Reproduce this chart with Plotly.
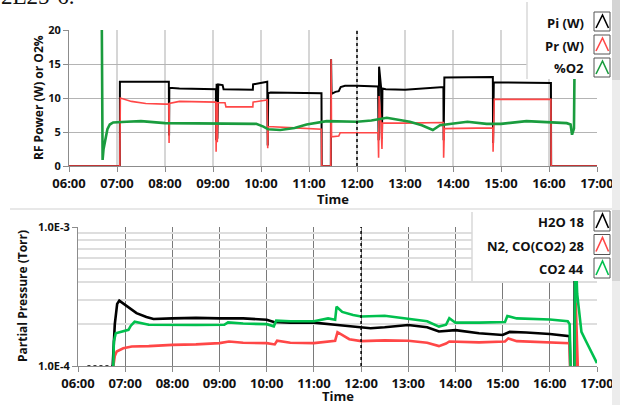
import plotly.graph_objects as go

W, H = 620, 405
def px(x): return x / W
def py(y): return 1 - y / H

# ---------------- data (hours of day) ----------------
hour_ticks = list(range(6, 18))
hour_labels = [f"{h:02d}:00" for h in hour_ticks]

pi_t = [6.0, 7.06, 7.06, 8.08, 8.085, 8.09, 8.3, 9.06, 9.065, 9.075, 9.09, 9.10, 9.11, 9.20, 9.22, 9.83, 9.835, 10.13, 10.14, 10.15, 10.20,
        11.26, 11.265, 11.455, 11.46, 11.47, 11.55, 11.62, 11.66, 11.75, 12.0, 12.44, 12.45, 12.46, 12.50, 12.52, 12.53, 12.6, 13.0,
        13.8, 13.805, 13.82, 14.83, 14.835, 14.85, 16.04, 16.045, 17.0]
pi_v = [0, 0, 12.4, 12.4, 4.5, 11.5, 11.4, 11.3, 3.8, 12.1, 4.0, 12.0, 12.0, 11.9, 11.3, 11.2, 12.0, 12.4, 3.0, 10.7, 10.8,
        10.7, 0, 0, 15.7, 10.6, 10.9, 11.0, 11.6, 11.8, 11.8, 11.7, 3.8, 14.6, 11.7, 4.0, 11.4, 11.3, 11.2,
        11.6, 3.8, 13.0, 13.1, 3.4, 12.3, 12.2, 0, 0]

pr_t = [6.0, 7.06, 7.062, 7.07, 7.3, 7.6, 8.0, 8.08, 8.085, 8.09, 8.3, 9.0, 9.06, 9.065, 9.075, 9.09, 9.10, 9.25, 9.27, 9.83, 9.835,
        10.13, 10.14, 10.15, 10.7, 11.26, 11.265, 11.455, 11.46, 11.47, 11.62, 11.65, 12.44, 12.45, 12.46, 12.50, 12.52, 12.53,
        13.0, 13.8, 13.805, 13.82, 14.83, 14.835, 14.86, 16.04, 16.045, 17.0]
pr_v = [0, 0, 3.4, 10.0, 9.5, 9.2, 9.1, 9.1, 3.4, 9.2, 9.5, 9.4, 9.4, 2.1, 9.4, 3.5, 9.3, 9.3, 8.7, 8.7, 9.4,
        9.7, 2.6, 5.8, 5.6, 5.4, 0, 0, 15.7, 4.3, 4.4, 4.9, 4.9, 1.2, 10.3, 6.2, 2.5, 6.3,
        6.3, 6.4, 1.2, 5.5, 5.6, 2.1, 9.8, 9.8, 0, 0]

o2_t = [6.68, 6.685, 6.70, 6.72, 6.76, 6.80, 6.85, 6.92, 7.2, 7.5, 8.0, 8.5, 9.0, 9.5, 9.9, 10.05, 10.15, 10.4, 10.7, 10.95,
        11.37, 12.0, 12.3, 12.62, 12.8, 13.1, 13.35, 13.58, 13.73, 14.0, 14.3, 14.7, 15.0, 15.53, 16.02, 16.37, 16.45, 16.48, 16.52, 16.53]
o2_v = [25, 6.0, 0.9, 2.5, 4.3, 5.4, 6.1, 6.4, 6.5, 6.6, 6.3, 6.3, 6.2, 6.3, 6.2, 5.8, 5.4, 5.3, 5.6, 6.1,
        6.6, 6.5, 6.7, 7.1, 6.9, 6.5, 6.0, 5.3, 6.0, 6.2, 6.5, 6.2, 6.2, 6.6, 6.4, 6.3, 6.1, 4.6, 5.5, 13.0]

# H2O: idle baseline before the run, then the run itself
h2o_idle_t = [6.2, 6.73]
h2o_idle_v = [1.0e-4, 1.0e-4]
h2o_t = [6.73, 6.735, 6.78, 6.83, 6.875, 7.0, 7.24, 7.45, 7.6, 8.0, 8.5, 9.0, 9.5, 10.0, 10.15, 10.5, 11.0, 11.5, 12.0, 12.2,
         12.5, 13.0, 13.4, 13.65, 14.0, 14.5, 15.0, 15.15, 15.5, 16.0, 16.42, 16.45, 16.52, 16.53, 16.545, 17.0]
h2o_v = [1.0e-4, 1.0e-4, 2.0e-4, 2.8e-4, 2.95e-4, 2.75e-4, 2.4e-4, 2.25e-4, 2.18e-4, 2.2e-4, 2.22e-4, 2.2e-4, 2.2e-4, 2.15e-4,
         2.07e-4, 2.05e-4, 2.05e-4, 1.97e-4, 1.9e-4, 1.87e-4, 1.9e-4, 1.97e-4, 1.9e-4, 1.77e-4, 1.81e-4, 1.72e-4, 1.67e-4, 1.76e-4,
         1.74e-4, 1.70e-4, 1.64e-4, 5e-5, 5e-5, 1.2e-3, 5e-5, 5e-5]

n2_t = [6.73, 6.75, 6.78, 6.82, 6.96, 7.14, 7.5, 8.0, 8.5, 9.0, 9.2, 9.5, 10.0, 10.17, 10.22, 10.5, 11.0, 11.3, 11.45, 11.5, 11.75,
        12.0, 12.5, 13.0, 13.4, 13.65, 13.8, 13.87, 14.5, 15.05, 15.12, 15.3, 16.0, 16.42, 16.45, 16.53, 16.55, 16.6, 16.62, 17.0]
n2_v = [5e-5, 1.0e-4, 1.18e-4, 1.27e-4, 1.34e-4, 1.38e-4, 1.39e-4, 1.42e-4, 1.43e-4, 1.46e-4, 1.5e-4, 1.47e-4, 1.46e-4, 1.43e-4,
        1.52e-4, 1.47e-4, 1.46e-4, 1.5e-4, 1.52e-4, 1.75e-4, 1.56e-4, 1.51e-4, 1.53e-4, 1.52e-4, 1.47e-4, 1.39e-4, 1.45e-4, 1.5e-4,
        1.48e-4, 1.5e-4, 1.58e-4, 1.51e-4, 1.48e-4, 1.46e-4, 5e-5, 5e-5, 2.84e-4, 1.2e-4, 5e-5, 5e-5]

co2_t = [6.73, 6.74, 6.76, 6.80, 6.9, 7.07, 7.12, 7.2, 7.5, 8.0, 8.5, 9.1, 9.18, 9.5, 10.0, 10.15, 10.2, 10.5, 11.0, 11.3, 11.45,
         11.48, 11.6, 11.83, 12.0, 12.5, 13.0, 13.4, 13.65, 13.8, 13.87, 14.0, 14.5, 15.05, 15.1, 15.3, 16.0, 16.38, 16.42, 16.46,
         16.52, 16.54, 16.58, 16.63, 16.67, 16.77, 16.88, 17.0]
co2_v = [5e-5, 1.0e-4, 1.5e-4, 1.72e-4, 1.76e-4, 1.82e-4, 1.95e-4, 2.08e-4, 1.98e-4, 1.97e-4, 1.97e-4, 1.98e-4, 2.06e-4, 2.02e-4,
         2.0e-4, 1.93e-4, 2.12e-4, 2.1e-4, 2.1e-4, 2.2e-4, 2.15e-4, 2.67e-4, 2.45e-4, 2.33e-4, 2.27e-4, 2.3e-4, 2.2e-4, 2.1e-4,
         1.92e-4, 1.98e-4, 2.21e-4, 2.05e-4, 2.05e-4, 2.07e-4, 2.29e-4, 2.2e-4, 2.16e-4, 2.1e-4, 2.0e-4, 5e-5,
         5e-5, 8e-4, 3.3e-4, 2.3e-4, 1.76e-4, 1.5e-4, 1.27e-4, 1.05e-4]

top_names = ["Pi (W)", "Pr (W)", "%O2"]
bot_names = ["H2O 18", "N2, CO(CO2) 28", "CO2 44"]
top_colors = ["#000000", "#ff4747", "#1a9c3e"]
bot_colors = ["#000000", "#ff4747", "#00c04e"]

# ---------------- figure ----------------
fig = go.Figure()
fig.add_trace(go.Scatter(x=pi_t, y=pi_v, mode="lines", line=dict(color=top_colors[0], width=2), xaxis="x", yaxis="y", showlegend=False))
fig.add_trace(go.Scatter(x=pr_t, y=pr_v, mode="lines", line=dict(color=top_colors[1], width=1.6), xaxis="x", yaxis="y", showlegend=False))
fig.add_trace(go.Scatter(x=o2_t, y=o2_v, mode="lines", line=dict(color=top_colors[2], width=2.6), xaxis="x", yaxis="y", showlegend=False))
fig.add_trace(go.Scatter(x=h2o_idle_t, y=h2o_idle_v, mode="lines", line=dict(color=bot_colors[0], width=1.5, dash="dot"),
                         xaxis="x2", yaxis="y2", showlegend=False))
fig.add_trace(go.Scatter(x=h2o_t, y=h2o_v, mode="lines", line=dict(color=bot_colors[0], width=2.6), xaxis="x2", yaxis="y2", showlegend=False))
fig.add_trace(go.Scatter(x=n2_t, y=n2_v, mode="lines", line=dict(color=bot_colors[1], width=2.6), xaxis="x2", yaxis="y2", showlegend=False))
fig.add_trace(go.Scatter(x=co2_t, y=co2_v, mode="lines", line=dict(color=bot_colors[2], width=2.6), xaxis="x2", yaxis="y2", showlegend=False))

FONT = "Open Sans"
xtick_font = dict(family=FONT, size=13, color="#111", weight="bold")
ytick_font = dict(family=FONT, size=11, color="#111", weight="bold")
axis_common = dict(showline=True, linecolor="#8c8c8c", linewidth=1, ticks="outside", ticklen=5, tickcolor="#8c8c8c",
                   zeroline=False, automargin=False)

fig.update_layout(
    template="none",
    width=W, height=H, margin=dict(l=0, r=0, t=0, b=0, autoexpand=False),
    paper_bgcolor="white", plot_bgcolor="white", showlegend=False,
    xaxis=dict(domain=[px(69), px(597)], range=[6, 17], anchor="y", tickmode="array", tickvals=hour_ticks, ticktext=hour_labels,
               tickfont=xtick_font, showgrid=False,
               minor=dict(tickvals=hour_ticks[1:-1], showgrid=True, gridcolor="#d6d6d6", gridwidth=1.6, ticks=""), **axis_common),
    yaxis=dict(domain=[py(166), py(30)], range=[0, 20], anchor="x", tickmode="array", tickvals=[0, 5, 10, 15, 20],
               tickfont=ytick_font, showgrid=True, gridcolor="#b4b4b4", gridwidth=1, **axis_common),
    xaxis2=dict(domain=[px(78), px(597)], range=[6, 17], anchor="y2", tickmode="array", tickvals=hour_ticks, ticktext=hour_labels,
                tickfont=xtick_font, showgrid=False,
                minor=dict(tickvals=hour_ticks[1:-1], showgrid=True, gridcolor="#7a7a7a", gridwidth=1, ticks=""), **axis_common),
    yaxis2=dict(domain=[py(366), py(227)], type="log", range=[-4, -3], anchor="x2", tickmode="array",
                tickvals=[1e-4, 1e-3], ticktext=["1.0E-4", "1.0E-3"], tickfont=ytick_font, showgrid=True,
                gridcolor="#dcdcdc", gridwidth=1.6,
                minor=dict(tickvals=[k * 1e-4 for k in range(2, 10)], showgrid=True, gridcolor="#dedede", gridwidth=1.6, ticks=""),
                **axis_common),
)

shapes = []
# 12:00 dotted markers
shapes.append(dict(type="line", xref="x", yref="y domain", x0=12, x1=12, y0=0, y1=1, line=dict(color="black", width=1.5, dash="dot")))
shapes.append(dict(type="line", xref="x2", yref="y2 domain", x0=12, x1=12, y0=0, y1=1, line=dict(color="black", width=1.5, dash="dot")))
# separator & right strip
shapes.append(dict(type="line", xref="paper", yref="paper", x0=px(10), x1=px(612), y0=py(209), y1=py(209), line=dict(color="#d2d2d2", width=1.2), layer="above"))
shapes.append(dict(type="rect", xref="paper", yref="paper", x0=px(612), x1=1, y0=0, y1=1, fillcolor="#ececec", line=dict(width=0), layer="above"))
shapes.append(dict(type="rect", xref="paper", yref="paper", x0=px(612), x1=1, y0=py(80), y1=1, fillcolor="#d4d4d4", line=dict(width=0), layer="above"))
shapes.append(dict(type="rect", xref="paper", yref="paper", x0=px(612), x1=1, y0=py(281), y1=py(210), fillcolor="#d4d4d4", line=dict(width=0), layer="above"))

annotations = []

def legend_block(x_left, y_top, y_bot, names, colors, centers, boxes):
    shapes.append(dict(type="rect", xref="paper", yref="paper", x0=px(x_left), x1=px(612), y0=py(y_bot), y1=py(y_top),
                       fillcolor="white", line=dict(width=0), layer="above"))
    shapes.append(dict(type="line", xref="paper", yref="paper", x0=px(x_left), x1=px(x_left), y0=py(y_bot), y1=py(y_top + 2),
                       line=dict(color="#d8d8d8", width=1.5), layer="above"))
    for name, col, cy, (b0, b1) in zip(names, colors, centers, boxes):
        annotations.append(dict(xref="paper", yref="paper", x=px(586), y=py(cy), xanchor="right", yanchor="middle",
                                text=name, showarrow=False, font=dict(family=FONT, size=13, color="#111", weight="bold")))
        shapes.append(dict(type="rect", xref="paper", yref="paper", x0=px(594), x1=px(610), y0=py(b1), y1=py(b0),
                           fillcolor="white", line=dict(color="#555555", width=1), layer="above"))
        path = f"M {px(596)},{py(b1 - 3)} L {px(602.5)},{py(b0 + 3)} L {px(608.5)},{py(b1 - 3)}"
        shapes.append(dict(type="path", xref="paper", yref="paper", path=path, line=dict(color=col, width=1.6), layer="above"))

legend_block(527, 0, 79, top_names, top_colors, [22.7, 45.5, 68.3], [(12, 31), (35, 54), (58, 77)])
legend_block(472, 210, 281, bot_names, bot_colors, [222.3, 245.7, 269], [(211, 231), (234.5, 254.5), (258, 278)])

# axis titles
annotations.append(dict(xref="paper", yref="paper", x=px(38), y=py(98), text="RF Power (W) or O2%", textangle=-90, showarrow=False,
                        xanchor="center", yanchor="middle", font=dict(family=FONT, size=12, color="#111", weight="bold")))
annotations.append(dict(xref="paper", yref="paper", x=px(22), y=py(296), text="Partial Pressure (Torr)", textangle=-90, showarrow=False,
                        xanchor="center", yanchor="middle", font=dict(family=FONT, size=12, color="#111", weight="bold")))
annotations.append(dict(xref="paper", yref="paper", x=px(333), y=py(199), text="Time", showarrow=False,
                        xanchor="center", yanchor="middle", font=dict(family=FONT, size=13, color="#111", weight="bold")))
annotations.append(dict(xref="paper", yref="paper", x=px(338), y=py(396), text="Time", showarrow=False,
                        xanchor="center", yanchor="middle", font=dict(family=FONT, size=13, color="#111", weight="bold")))
# cut-off caption from the page above (only its lower part is visible)
annotations.append(dict(xref="paper", yref="paper", x=px(-1), y=py(11.5), text="2E25-6.", showarrow=False,
                        xanchor="left", yanchor="bottom", font=dict(family="Liberation Serif", size=23, color="#111")))

fig.update_layout(shapes=shapes, annotations=annotations)
# remove the browser's default 8px page margin so the figure sits at the window origin
fig.write_html("out.html", config={"displayModeBar": False}, post_script="document.body.style.margin='0px';")
